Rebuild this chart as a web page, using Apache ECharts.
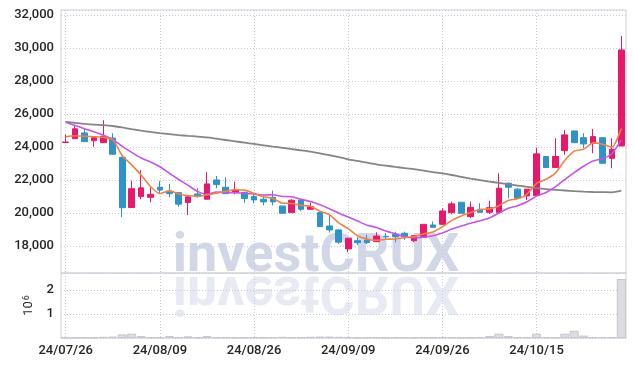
<!DOCTYPE html>
<html><head><meta charset="utf-8">
<script src="https://cdn.jsdelivr.net/npm/echarts@6/dist/echarts.min.js"></script>
<style>html,body{margin:0;padding:0;background:#fff}#c{width:634px;height:367px}</style>
</head><body><div id="c"></div>
<script>
const dates = ['24/07/26','24/07/29','24/07/30','24/07/31','24/08/01','24/08/02','24/08/05','24/08/06','24/08/07','24/08/08',
'24/08/09','24/08/12','24/08/13','24/08/14','24/08/16','24/08/19','24/08/20','24/08/21','24/08/22','24/08/23',
'24/08/26','24/08/27','24/08/28','24/08/29','24/08/30','24/09/02','24/09/03','24/09/04','24/09/05','24/09/06',
'24/09/09','24/09/10','24/09/11','24/09/12','24/09/13','24/09/19','24/09/20','24/09/23','24/09/24','24/09/25',
'24/09/26','24/09/27','24/09/30','24/10/02','24/10/04','24/10/07','24/10/08','24/10/10','24/10/11','24/10/14',
'24/10/15','24/10/16','24/10/17','24/10/18','24/10/21','24/10/22','24/10/23','24/10/24','24/10/25','24/10/28'];
const openP = [24270,24500,24850,24380,24260,24540,23370,20330,20990,20950,
21560,21330,21230,20630,21150,20830,22000,21560,21230,21240,
20990,20830,20950,20420,20020,20790,20220,20020,19210,18970,
17820,18320,18360,18260,18580,18710,18770,18320,18530,19270,
19310,20020,20650,19780,20220,20040,20020,21800,21440,21030,
21050,23420,22750,23780,24970,24560,24220,24560,23310,24060];
const closeP = [24300,25100,24320,24560,24640,23560,20320,21470,21520,21130,
21390,21170,20530,20980,20990,21760,21720,21170,21390,20870,
20790,20670,20670,19980,20770,20220,20380,19170,18970,18230,
18470,18200,18200,18600,18550,18570,18570,18630,19310,19130,
20120,20550,19980,20340,20040,20320,21500,21560,20890,21440,
23580,22750,23420,24730,24260,24180,24630,23010,23860,29880];
const lowP = [24250,24480,24300,24010,24250,23530,19740,20320,20830,20650,
21200,20950,20380,19880,20930,20820,21500,21150,21130,20620,
20590,20460,20460,19970,20000,20100,20210,19150,18810,18120,
17620,18060,18120,18250,18360,18230,18360,18230,18510,19120,
19300,19920,19970,19680,20030,19940,20000,20890,20880,20790,
21030,22740,22740,23520,24250,23920,23620,22980,22710,24040];
const highP = [24750,25300,25120,24600,25620,24830,23400,21960,22600,21550,
21940,21760,21240,21000,21500,22470,22240,22160,21900,21290,
21190,20990,21350,20430,20830,20800,20620,20050,19880,19000,
18480,18530,18670,18830,18770,18870,18870,18650,19320,19480,
20280,20690,20660,20690,20590,20750,22410,21840,21490,21450,
23960,23430,24530,25030,24980,24830,25090,24600,24530,30730];
const ma5 = [24620,24680,24650,24620,24584,24436,23480,22910,22302,21600,
21166,21336,21148,21040,21012,21086,21196,21324,21406,21382,
21188,20978,20878,20596,20576,20462,20404,20104,19902,19394,
19044,18608,18414,18340,18404,18424,18498,18584,18726,18842,
19152,19548,19818,20024,20206,20246,20436,20752,20862,21142,
21794,22044,22416,23184,23748,23868,24244,24162,23988,25112];
const ma10 = [25497,25303,25109,24921,24709,24455,24030,23667,23330,23092,
22801,22408,22029,21671,21306,21126,21266,21236,21223,21197,
21137,21087,21101,21001,20979,20825,20691,20491,20249,19985,
19753,19506,19259,19121,18899,18734,18553,18499,18533,18623,
18788,19023,19201,19375,19524,19699,19992,20285,20443,20674,
21020,21240,21584,22023,22445,22831,23144,23289,23586,24430];
const maLong = [25515,25460,25400,25350,25320,25270,25180,25080,24990,24910,
24840,24780,24720,24670,24630,24580,24500,24420,24340,24260,
24180,24100,24020,23950,23870,23790,23710,23610,23500,23380,
23250,23150,23050,22950,22870,22790,22720,22650,22570,22480,
22400,22300,22180,22080,21990,21900,21820,21740,21660,21580,
21500,21440,21400,21360,21320,21290,21270,21260,21250,21350];
const volume = [20000,20000,20000,20000,50000,60000,150000,180000,80000,40000,
30000,80000,30000,70000,30000,80000,40000,30000,20000,20000,
30000,20000,40000,50000,30000,20000,50000,60000,60000,50000,
40000,20000,20000,30000,20000,20000,30000,20000,40000,20000,
40000,30000,20000,20000,40000,80000,180000,80000,40000,30000,
180000,40000,30000,180000,300000,100000,40000,40000,40000,2450000];

const UP = '#e8196a', DOWN = '#2f93c7';
const gridLine = {show:true, lineStyle:{type:[1,2], color:'#c5cadc', width:1}};
const labelFont = {fontFamily:'Roboto', fontSize:13, fontWeight:500, color:'#262626'};
const fmt = v => String(Math.round(v)).replace(/\B(?=(\d{3})+(?!\d))/g, ',');

const chart = echarts.init(document.getElementById('c'), null, {renderer:'canvas'});
chart.setOption({
  animation:false,
  backgroundColor:'#ffffff',
  grid:[
    {left:61, right:8, top:10, height:263, show:true, borderColor:'#d0d0d6', borderWidth:1, backgroundColor:'transparent'},
    {left:61, right:8, top:273, height:65, show:true, borderColor:'#d0d0d6', borderWidth:1, backgroundColor:'transparent'}
  ],
  graphic:[
    {type:'text', x:316, y:290, scaleY:-1, z:0, silent:true,
     style:{text:'investCRUX', fontFamily:'Roboto', fontWeight:'bold', fontSize:54, fill:'#e7eaf2', align:'center', verticalAlign:'middle'}},
    {type:'text', x:316, y:257, z:0, silent:true,
     style:{text:'investCRUX', fontFamily:'Roboto', fontWeight:'bold', fontSize:54, fill:'#d1d7e7', align:'center', verticalAlign:'middle'}}
  ],
  xAxis:[
    {type:'category', gridIndex:0, data:dates, boundaryGap:true,
     axisLine:{show:false}, axisTick:{show:false}, axisLabel:{show:false},
     splitLine:Object.assign({interval:9, alignWithLabel:true}, gridLine)},
    {type:'category', gridIndex:1, data:dates, boundaryGap:true,
     axisLine:{show:false}, axisTick:{show:false},
     axisLabel:Object.assign({interval:9, margin:6}, labelFont),
     splitLine:Object.assign({interval:9, alignWithLabel:true}, gridLine)}
  ],
  yAxis:[
    {type:'value', gridIndex:0, min:16360, max:32300, minInterval:2000, maxInterval:2000,
     axisLine:{show:false}, axisTick:{show:false},
     axisLabel:Object.assign({showMinLabel:false, showMaxLabel:false, margin:7, formatter:fmt}, labelFont),
     splitLine:gridLine},
    {type:'value', gridIndex:1, min:0, max:2700000, minInterval:1000000, maxInterval:1000000,
     axisLine:{show:false}, axisTick:{show:false},
     axisLabel:Object.assign({showMinLabel:false, showMaxLabel:false, margin:7, formatter:v=>String(v/1000000)}, labelFont),
     splitLine:gridLine,
     name:'{a|10}{b|6}', nameLocation:'middle', nameRotate:90, nameGap:18,
     nameTextStyle:{rich:{a:{fontFamily:'Roboto', fontSize:13, color:'#2a2a2a'}, b:{fontFamily:'Roboto', fontSize:9, color:'#2a2a2a', verticalAlign:'top', padding:[0,0,0,1]}}}}
  ],
  series:[
    {type:'candlestick', xAxisIndex:0, yAxisIndex:0, barWidth:'66%',
     data:dates.map((d,i)=>[openP[i], closeP[i], lowP[i], highP[i]]),
     itemStyle:{color:UP, color0:DOWN, borderColor:UP, borderColor0:DOWN, borderWidth:1}},
    {type:'line', xAxisIndex:0, yAxisIndex:0, data:maLong, symbol:'none', smooth:0.2,
     lineStyle:{color:'#858585', width:1.8}},
    {type:'line', xAxisIndex:0, yAxisIndex:0, data:ma10, symbol:'none', smooth:0.2,
     lineStyle:{color:'#c853ea', width:1.6}},
    {type:'line', xAxisIndex:0, yAxisIndex:0, data:ma5, symbol:'none', smooth:0.2,
     lineStyle:{color:'#ef8245', width:1.6}},
    {type:'bar', xAxisIndex:1, yAxisIndex:1, data:volume, barCategoryGap:'4%',
     itemStyle:{color:'#dcdce1', borderColor:'#c6c6cc', borderWidth:1}}
  ]
});
</script></body></html>
